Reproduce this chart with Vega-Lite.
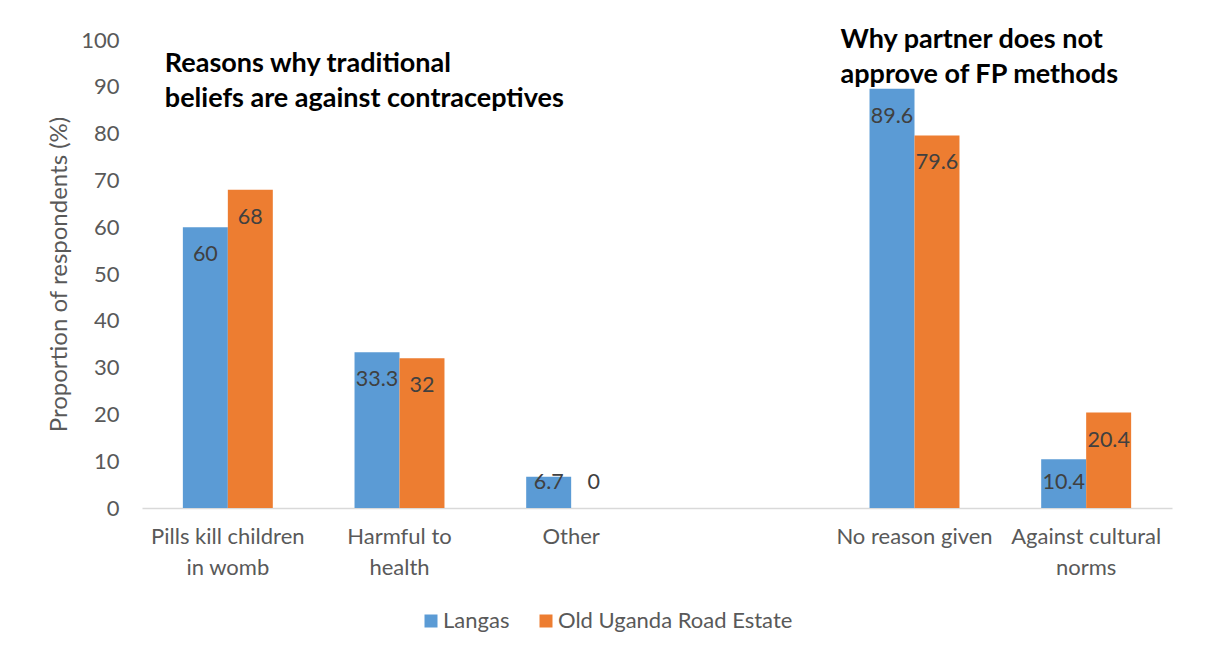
{
  "$schema": "https://vega.github.io/schema/vega-lite/v6.json",
  "autosize": "none",
  "width": 1030,
  "height": 468,
  "padding": {"left": 142, "top": 40, "right": 33, "bottom": 145},
  "background": "white",
  "config": {
    "font": "Lato",
    "view": {"stroke": null},
    "axis": {"labelFont": "Lato", "titleFont": "Lato"}
  },
  "layer": [
    {
      "data": {
        "values": [
          {"category": "Pills kill children in womb", "site": "Langas", "value": 60},
          {"category": "Pills kill children in womb", "site": "Old Uganda Road Estate", "value": 68},
          {"category": "Harmful to health", "site": "Langas", "value": 33.3},
          {"category": "Harmful to health", "site": "Old Uganda Road Estate", "value": 32},
          {"category": "Other", "site": "Langas", "value": 6.7},
          {"category": "Other", "site": "Old Uganda Road Estate", "value": 0},
          {"category": "No reason given", "site": "Langas", "value": 89.6},
          {"category": "No reason given", "site": "Old Uganda Road Estate", "value": 79.6},
          {"category": "Against cultural norms", "site": "Langas", "value": 10.4},
          {"category": "Against cultural norms", "site": "Old Uganda Road Estate", "value": 20.4}
        ]
      },
      "encoding": {
        "x": {
          "field": "category",
          "type": "nominal",
          "sort": null,
          "scale": {
            "domain": ["Pills kill children in womb", "Harmful to health", "Other", "gap", "No reason given", "Against cultural norms"],
            "paddingInner": 0.476,
            "paddingOuter": 0.238
          },
          "axis": {
            "title": null,
            "labelAngle": 0,
            "ticks": false,
            "domainColor": "#D9D9D9",
            "domainWidth": 1.5,
            "labelColor": "#595959",
            "labelFontSize": 22,
            "labelPadding": 18,
            "labelLineHeight": 31,
            "labelLimit": 300,
            "labelExpr": "datum.value == 'Pills kill children in womb' ? ['Pills kill children', 'in womb'] : datum.value == 'Harmful to health' ? ['Harmful to', 'health'] : datum.value == 'Against cultural norms' ? ['Against cultural', 'norms'] : datum.value == 'gap' ? '' : datum.value"
          }
        },
        "xOffset": {"field": "site", "type": "nominal", "scale": {"domain": ["Langas", "Old Uganda Road Estate"]}},
        "y": {
          "field": "value",
          "type": "quantitative",
          "scale": {"domain": [0, 100], "nice": false},
          "axis": {
            "title": "Proportion of respondents (%)",
            "titleFontWeight": "normal",
            "titleFontSize": 24,
            "titleColor": "#595959",
            "titlePadding": 9,
            "values": [0, 10, 20, 30, 40, 50, 60, 70, 80, 90, 100],
            "grid": false,
            "domain": false,
            "ticks": false,
            "labelPadding": 23,
            "labelFontSize": 22,
            "labelColor": "#595959"
          }
        }
      },
      "layer": [
        {
          "mark": {"type": "bar"},
          "encoding": {
            "color": {
              "field": "site",
              "type": "nominal",
              "scale": {"domain": ["Langas", "Old Uganda Road Estate"], "range": ["#5B9BD5", "#ED7D31"]},
              "legend": {
                "title": null,
                "orient": "none",
                "direction": "horizontal",
                "legendX": 278,
                "legendY": 570,
                "symbolType": "square",
                "symbolSize": 169,
                "symbolStrokeWidth": 0,
                "labelFontSize": 22,
                "labelColor": "#595959",
                "labelOffset": 1,
                "columnPadding": 25,
                "labelLimit": 400
              }
            }
          }
        },
        {
          "transform": [{"filter": "datum.value >= 11"}],
          "mark": {"type": "text", "dy": 28, "baseline": "middle", "fontSize": 21.5, "color": "#404040"},
          "encoding": {"text": {"field": "value", "type": "quantitative"}}
        },
        {
          "transform": [{"filter": "datum.value < 11"}],
          "mark": {"type": "text", "baseline": "middle", "fontSize": 21.5, "color": "#404040"},
          "encoding": {
            "y": {"datum": 5.3},
            "text": {"field": "value", "type": "quantitative"}
          }
        }
      ]
    },
    {
      "data": {"values": [{"label": "Reasons why traditional beliefs are against contraceptives"}]},
      "mark": {"type": "text", "align": "left", "baseline": "middle", "fontSize": 27, "fontWeight": "bold", "color": "#000000", "lineHeight": 35, "dx": -18},
      "encoding": {
        "x": {"datum": "Pills kill children in womb", "bandPosition": 0},
        "y": {"datum": 94.9},
        "text": {"value": ["Reasons why traditional", "beliefs are against contraceptives"]}
      }
    },
    {
      "data": {"values": [{"label": "Why partner does not approve of FP methods"}]},
      "mark": {"type": "text", "align": "left", "baseline": "middle", "fontSize": 27, "fontWeight": "bold", "color": "#000000", "lineHeight": 35, "dx": -29},
      "encoding": {
        "x": {"datum": "No reason given", "bandPosition": 0},
        "y": {"datum": 100},
        "text": {"value": ["Why partner does not", "approve of FP methods"]}
      }
    }
  ]
}
